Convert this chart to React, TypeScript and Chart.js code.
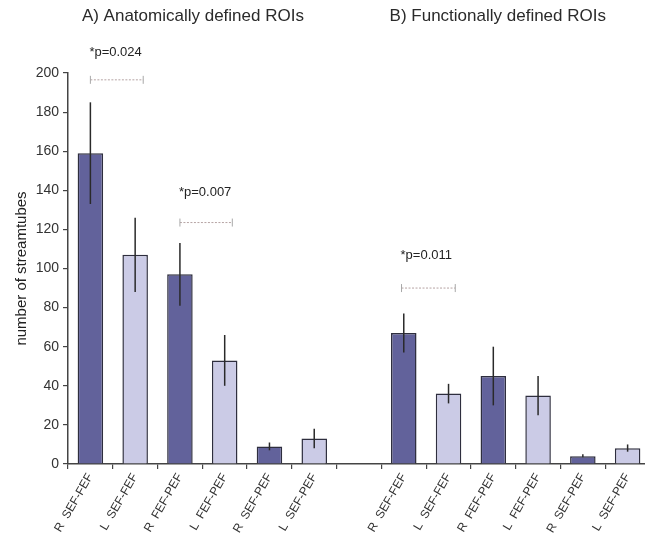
import React, { useEffect, useRef } from "react";
import { Chart, registerables } from "chart.js";

Chart.register(...registerables);

const categories = [
  "R  SEF-FEF", "L  SEF-FEF", "R  FEF-PEF", "L  FEF-PEF", "R  SEF-PEF", "L  SEF-PEF",
  "",
  "R  SEF-FEF", "L  SEF-FEF", "R  FEF-PEF", "L  FEF-PEF", "R  SEF-PEF", "L  SEF-PEF",
];
const means = [159, 107, 97, 53, 9, 13, null, 67, 36, 45, 35, 4, 8];
const errLow = [133, 88, 81, 40, 7, 8, null, 57, 31, 30, 25, 3.4, 6.3];
const errHigh = [185, 126, 113, 66, 11, 18, null, 77, 41, 60, 45, 5, 10];
const side = ["R", "L", "R", "L", "R", "L", "", "R", "L", "R", "L", "R", "L"];

const panelTitles = ["A) Anatomically defined ROIs", "B) Functionally defined ROIs"];
const panelTitleCenters = [2.29, 9.1]; // category index positions

const pLabels = ["*p=0.024", "*p=0.007", "*p=0.011"];
const pFrom = [0, 2, 6.95];
const pTo = [1.18, 3.17, 8.15];
const pY = [196.5, 123.5, 90];
const pTextY = [210.5, 139, 106.5];

const DARK = "#62629b";
const LIGHT = "#cbcbe6";
const FONT = "'Liberation Sans', Arial, sans-serif";

const overlayPlugin = {
  id: "overlay",
  afterDatasetsDraw(chart: any) {
    const ctx = chart.ctx;
    const meta = chart.getDatasetMeta(0);
    const y = chart.scales.y;
    const x = chart.scales.x;
    ctx.save();
    // error bars
    ctx.strokeStyle = "#2a2a2a";
    ctx.lineWidth = 1.5;
    meta.data.forEach((el: any, i: number) => {
      if (errLow[i] == null || errHigh[i] == null) return;
      ctx.beginPath();
      ctx.moveTo(el.x, y.getPixelForValue(errLow[i] as number));
      ctx.lineTo(el.x, y.getPixelForValue(errHigh[i] as number));
      ctx.stroke();
    });
    // significance brackets
    for (let k = 0; k < pLabels.length; k++) {
      const x0 = x.getPixelForValue(pFrom[k]);
      const x1 = x.getPixelForValue(pTo[k]);
      const yy = y.getPixelForValue(pY[k]);
      ctx.strokeStyle = "#b5a3a3";
      ctx.lineWidth = 1;
      ctx.setLineDash([2, 1.5]);
      ctx.beginPath();
      ctx.moveTo(x0, yy);
      ctx.lineTo(x1, yy);
      ctx.stroke();
      ctx.setLineDash([]);
      ctx.strokeStyle = "#a8a8a8";
      ctx.beginPath();
      ctx.moveTo(x0, yy - 4);
      ctx.lineTo(x0, yy + 4);
      ctx.moveTo(x1, yy - 4);
      ctx.lineTo(x1, yy + 4);
      ctx.stroke();
      ctx.fillStyle = "#222";
      ctx.font = `13px ${FONT}`;
      ctx.textAlign = "left";
      ctx.textBaseline = "middle";
      ctx.fillText(pLabels[k], x0 - 1, y.getPixelForValue(pTextY[k]));
    }
    // panel titles
    ctx.fillStyle = "#2a2a2a";
    ctx.font = `17px ${FONT}`;
    ctx.textAlign = "center";
    ctx.textBaseline = "middle";
    for (let k = 0; k < panelTitles.length; k++) {
      ctx.fillText(panelTitles[k], x.getPixelForValue(panelTitleCenters[k]), 16);
    }
    ctx.restore();
  },
};

export default function App() {
  const ref = useRef<HTMLCanvasElement | null>(null);
  useEffect(() => {
    if (!ref.current) return;
    const chart = new Chart(ref.current, {
      type: "bar",
      data: {
        labels: categories,
        datasets: [
          {
            data: means as any,
            backgroundColor: side.map((s) => (s === "R" ? DARK : LIGHT)),
            borderColor: "#2e2e3e",
            borderWidth: 1.5,
            categoryPercentage: 1,
            barPercentage: 0.57,
          },
        ],
      },
      options: {
        animation: false,
        responsive: false,
        devicePixelRatio: 1,
        layout: { padding: { top: 73, left: 8, right: 10, bottom: 0 } },
        plugins: { legend: { display: false }, tooltip: { enabled: false } },
        scales: {
          x: {
            afterFit: (s: any) => {
              s.height = 76;
            },
            grid: {
              display: true,
              drawOnChartArea: false,
              drawTicks: true,
              tickLength: 5,
              color: "#444",
              lineWidth: 1.2,
              offset: true,
            },
            border: { color: "#444", width: 1.5 },
            ticks: {
              autoSkip: false,
              maxRotation: 60,
              minRotation: 60,
              color: "#333",
              font: { family: FONT, size: 12 },
              padding: 2,
            },
          },
          y: {
            min: 0,
            max: 200,
            afterFit: (s: any) => {
              s.width = 60;
            },
            grid: {
              display: true,
              drawOnChartArea: false,
              drawTicks: true,
              tickLength: 5,
              color: "#444",
              lineWidth: 1.2,
            },
            border: { color: "#444", width: 1.5 },
            ticks: {
              stepSize: 20,
              color: "#333",
              font: { family: FONT, size: 14 },
              padding: 4,
            },
            title: {
              display: true,
              text: "number of streamtubes",
              color: "#222",
              font: { family: FONT, size: 15 },
              padding: { top: 5, bottom: 2 },
            },
          },
        },
      },
      plugins: [overlayPlugin],
    });
    return () => chart.destroy();
  }, []);
  return (
    <div
      style={{
        position: "fixed",
        left: 0,
        top: 0,
        width: 645,
        height: 540,
        overflow: "hidden",
        background: "#fff",
      }}
    >
      <canvas ref={ref} width={660} height={540} style={{ display: "block" }} />
    </div>
  );
}
